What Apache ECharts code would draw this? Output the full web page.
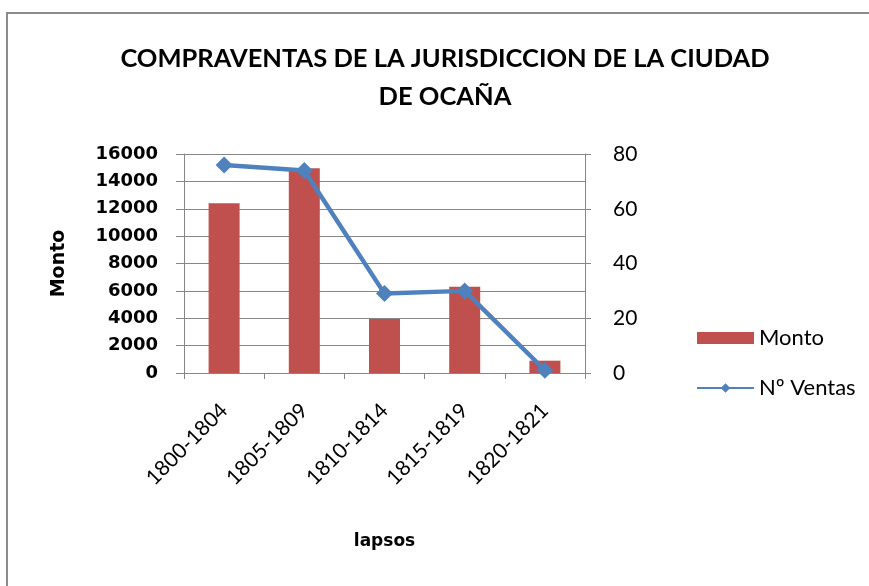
<!DOCTYPE html>
<html>
<head>
<meta charset="utf-8">
<script src="https://cdn.jsdelivr.net/npm/echarts@6/dist/echarts.min.js"></script>
<style>
  html, body { margin: 0; padding: 0; background: #fff; }
  #frame { position: absolute; left: 6px; top: 12px; width: 900px; height: 600px; border: 2px solid #8c8c8c; }
  #chart { position: absolute; left: 0; top: 0; width: 869px; height: 586px; }
</style>
</head>
<body>
<div id="frame"></div>
<div id="chart"></div>
<script>
// --- Data ---
const lapsos = ['1800-1804', '1805-1809', '1810-1814', '1815-1819', '1820-1821'];
const monto = [12400, 14950, 3950, 6300, 900];
const ventas = [76, 74, 29, 30, 1];

const font = 'Lato, "Open Sans", sans-serif';
const wide = '"DejaVu Sans", sans-serif';
const gray = '#868686';

const chart = echarts.init(document.getElementById('chart'));
chart.setOption({
    animation: false,
    title: {
        text: 'COMPRAVENTAS DE LA JURISDICCION DE LA CIUDAD\nDE OCAÑA',
        left: 445,
        top: 40,
        padding: 0,
        textAlign: 'center',
        textStyle: { fontFamily: font, fontSize: 25.5, fontWeight: 'bold', color: '#000', lineHeight: 38 }
    },
    legend: {
        orient: 'vertical',
        left: 691,
        top: 322,
        itemGap: 28,
        itemWidth: 57,
        itemHeight: 12,
        textStyle: { fontFamily: font, fontSize: 22, color: '#000' },
        data: [
            { name: 'Monto', icon: 'rect' },
            { name: 'Nº Ventas' }
        ]
    },
    grid: { left: 184, right: 284, top: 154, bottom: 213 },
    xAxis: {
        type: 'category',
        data: lapsos,
        name: 'lapsos',
        nameLocation: 'middle',
        nameGap: 160,
        nameTextStyle: { fontFamily: wide, fontSize: 17, fontWeight: 'bold', color: '#000' },
        axisLine: { lineStyle: { color: gray } },
        axisTick: { show: true, length: 6, lineStyle: { color: gray } },
        axisLabel: { rotate: 45, margin: 34, fontFamily: font, fontSize: 21, color: '#000' }
    },
    yAxis: [
        {
            type: 'value',
            min: 0, max: 16000, interval: 2000,
            name: 'Monto',
            nameLocation: 'middle',
            nameGap: 115,
            nameRotate: 90,
            nameTextStyle: { fontFamily: wide, fontSize: 19, fontWeight: 'bold', color: '#000' },
            axisLine: { show: true, lineStyle: { color: gray } },
            axisTick: { show: true, length: 8, lineStyle: { color: gray } },
            axisLabel: { margin: 26, fontFamily: wide, fontSize: 18, fontWeight: 'bold', color: '#000', formatter: v => String(v) },
            splitLine: { lineStyle: { color: gray } }
        },
        {
            type: 'value',
            min: 0, max: 80, interval: 20,
            position: 'right',
            axisLine: { show: true, lineStyle: { color: gray } },
            axisTick: { show: true, length: 6, lineStyle: { color: gray } },
            axisLabel: { margin: 28, fontFamily: font, fontSize: 21, color: '#000' },
            splitLine: { show: false }
        }
    ],
    series: [
        {
            name: 'Monto',
            type: 'bar',
            data: monto,
            barWidth: 31,
            itemStyle: { color: '#C0504D' }
        },
        {
            name: 'Nº Ventas',
            type: 'line',
            yAxisIndex: 1,
            data: ventas,
            symbol: 'diamond',
            symbolSize: 17,
            lineStyle: { color: '#4F81BD', width: 4.5 },
            itemStyle: { color: '#4F81BD' }
        }
    ]
});
</script>
</body>
</html>
